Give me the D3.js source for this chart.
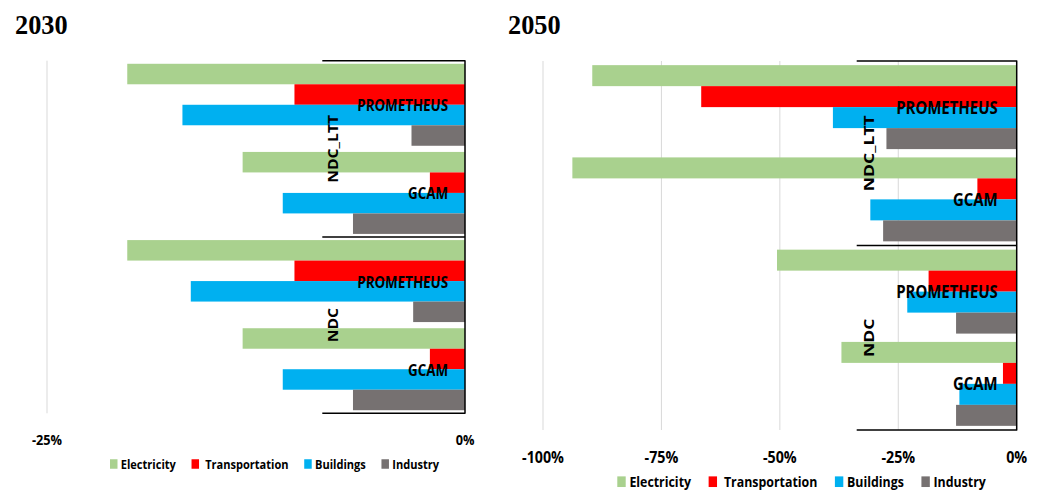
<!DOCTYPE html>
<html><head><meta charset="utf-8">
<script src="https://cdn.jsdelivr.net/npm/d3@7"></script>
<style>
  body { margin: 0; background: #fff; }
  svg text { font-family: "Open Sans", "Noto Sans", sans-serif; font-weight: bold; fill: #000; }
  svg text.title { font-family: "Liberation Serif", "DejaVu Serif", serif; }
</style>
</head><body>
<svg id="chart" width="1041" height="491"></svg>
<script>
// Emission change by sector relative to baseline (%)
const seriesNames = ["Electricity", " Transportation", "Buildings", "Industry"];
const seriesColors = ["#a9d18e", "#ff0000", "#00b0f0", "#767171"];
const scenarios = ["NDC_LTT", "NDC"];
const models = ["PROMETHEUS", "GCAM"];

// Each array: [NDC_LTT PROMETHEUS, NDC_LTT GCAM, NDC PROMETHEUS, NDC GCAM]
const electricity2030    = [-20.2, -13.3, -20.2, -13.3];
const transportation2030 = [-10.2,  -2.1, -10.2,  -2.1];
const buildings2030      = [-16.9, -10.9, -16.4, -10.9];
const industry2030       = [ -3.2,  -6.7,  -3.1,  -6.7];

const electricity2050    = [-89.6, -93.8, -50.6, -37.0];
const transportation2050 = [-66.6,  -8.3, -18.6,  -2.9];
const buildings2050      = [-38.8, -30.9, -23.1, -12.1];
const industry2050       = [-27.5, -28.2, -12.8, -12.8];

const ticks2030 = [-25, 0];
const ticks2050 = [-100, -75, -50, -25, 0];
const tickLabels2030 = ["-25%", "0%"];
const tickLabels2050 = ["-100%", "-75%", "-50%", "-25%", "0%"];

const SX = 0.85; // horizontal squeeze of the sans-serif labels

const panels = [
  { title: "2030", series: [electricity2030, transportation2030, buildings2030, industry2030],
    ticks: ticks2030, tickLabels: tickLabels2030, domain: [-25, 0], xRange: [47, 465],
    top: 60.7, bottom: 413.3, pad: 0.07, lineStart: 322.3, titleX: 15, titleY: 34.3,
    tickY: 439.5, legendX: 110, legendY: 464, k: 1 },
  { title: "2050", series: [electricity2050, transportation2050, buildings2050, industry2050],
    ticks: ticks2050, tickLabels: tickLabels2050, domain: [-100, 0], xRange: [543, 1016.7],
    top: 61, bottom: 430, pad: 0.09, lineStart: 856.7, titleX: 508, titleY: 34.3,
    tickY: 457, legendX: 617.3, legendY: 481.7, k: 1.12 }
];

const svg = d3.select("#chart");

// squeezed text helper: anchor point (x,y), optional rotation
function label(g, txt, x, y, size, anchor, rotate) {
  const t = g.append("g")
    .attr("transform", `translate(${x},${y}) scale(${SX},1)` + (rotate ? ` rotate(${rotate})` : ""))
    .append("text")
    .attr("font-size", size)
    .attr("text-anchor", anchor)
    .attr("dominant-baseline", "central")
    .style("white-space", "pre")
    .text(txt);
  return t;
}

panels.forEach(p => {
  const g = svg.append("g");
  const k = p.k;
  const x = d3.scaleLinear().domain(p.domain).range(p.xRange);
  const groups = d3.cross(scenarios, models).map(d => d.join("|"));
  const y = d3.scaleBand().domain(groups).range([p.top, p.bottom])
    .paddingInner(p.pad).paddingOuter(p.pad / 2);
  const ys = d3.scaleBand().domain(d3.range(seriesNames.length)).range([0, y.bandwidth()]);
  const x0 = x(0);

  // title
  g.append("g").attr("transform", `translate(${p.titleX},${p.titleY}) scale(0.94,1)`)
    .append("text").attr("class", "title").attr("font-size", 28).text(p.title);

  // vertical gridlines
  g.selectAll("line.grid").data(p.ticks.filter(t => t !== 0)).join("line")
    .attr("x1", d => x(d)).attr("x2", d => x(d))
    .attr("y1", p.top).attr("y2", p.bottom)
    .attr("stroke", "#d9d9d9").attr("stroke-width", 1);

  // bars
  groups.forEach((grp, gi) => {
    p.series.forEach((vals, si) => {
      const v = vals[gi];
      g.append("rect")
        .attr("x", x(v)).attr("width", x0 - x(v))
        .attr("y", y(grp) + ys(si)).attr("height", ys.bandwidth())
        .attr("fill", seriesColors[si]);
    });
  });

  // category axis: vertical line at zero and group separators
  g.append("line").attr("x1", x0).attr("x2", x0).attr("y1", p.top - 0.5).attr("y2", p.bottom + 0.5)
    .attr("stroke", "#000").attr("stroke-width", 1.5);
  const seps = [p.top, (p.top + p.bottom) / 2, p.bottom];
  g.selectAll("line.sep").data(seps).join("line")
    .attr("x1", p.lineStart).attr("x2", x0)
    .attr("y1", d => d).attr("y2", d => d)
    .attr("stroke", "#000").attr("stroke-width", 1.5);

  // model labels
  groups.forEach(grp => {
    const m = grp.split("|")[1];
    label(g, m, x0 - 17 * k, y(grp) + y.bandwidth() / 2, 15.7 * k, "end");
  });
  // scenario labels, rotated
  scenarios.forEach((s, i) => {
    const cy = (seps[i] + seps[i + 1]) / 2;
    label(g, s, x0 - 132 * k, cy, 15.7 * k, "middle", -90);
  });

  // value axis tick labels
  p.ticks.forEach((t, i) => {
    label(g, p.tickLabels[i], x(t), p.tickY, 15 * k, "middle");
  });

  // legend
  let lx = p.legendX;
  seriesNames.forEach((name, i) => {
    g.append("rect").attr("x", lx).attr("y", p.legendY - 4.75 * k)
      .attr("width", 7.5 * k).attr("height", 9.5 * k).attr("fill", seriesColors[i]);
    const tx = lx + 7.5 * k + 3.3 * k;
    const t = label(g, name, tx, p.legendY, 13 * k, "start");
    const w = t.node().getComputedTextLength() * SX;
    lx = tx + w + 15.7 * k;
  });
});
</script></body></html>
